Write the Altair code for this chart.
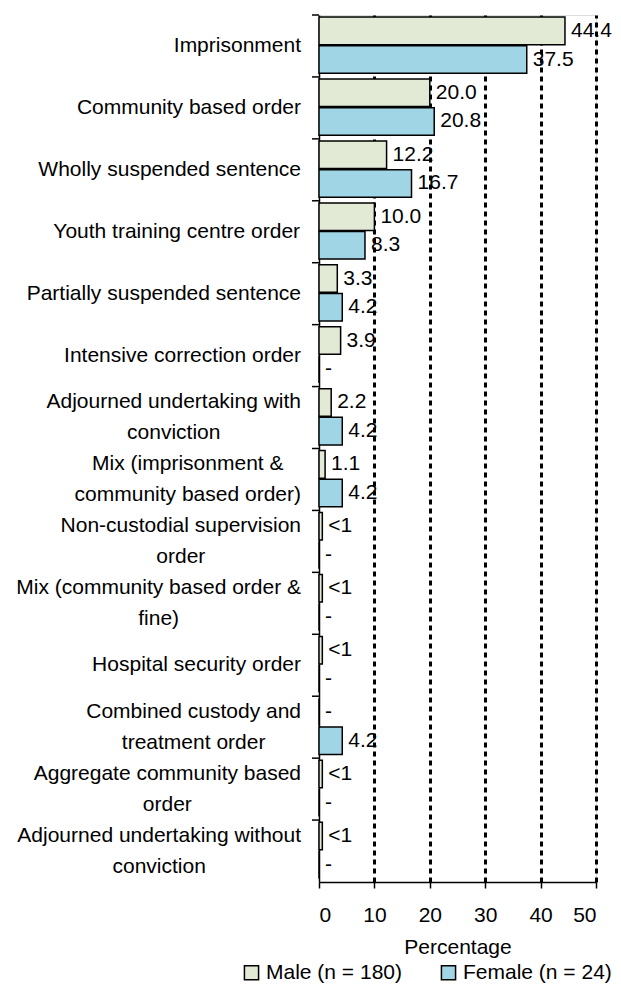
import altair as alt
import pandas as pd

# ---- data ----
categories = [
    ["Imprisonment"],
    ["Community based order"],
    ["Wholly suspended sentence"],
    ["Youth training centre order"],
    ["Partially suspended sentence"],
    ["Intensive correction order"],
    ["Adjourned undertaking with", "conviction"],
    ["Mix (imprisonment &", "community based order)"],
    ["Non-custodial supervision", "order"],
    ["Mix (community based order &", "fine)"],
    ["Hospital security order"],
    ["Combined custody and", "treatment order"],
    ["Aggregate community based", "order"],
    ["Adjourned undertaking without", "conviction"],
]
male_values = [44.4, 20.0, 12.2, 10.0, 3.3, 3.9, 2.2, 1.1, 0.6, 0.6, 0.6, 0.0, 0.6, 0.6]
male_labels = ["44.4", "20.0", "12.2", "10.0", "3.3", "3.9", "2.2", "1.1", "<1", "<1", "<1", "-", "<1", "<1"]
female_values = [37.5, 20.8, 16.7, 8.3, 4.2, 0.0, 4.2, 4.2, 0.0, 0.0, 0.0, 4.2, 0.0, 0.0]
female_labels = ["37.5", "20.8", "16.7", "8.3", "4.2", "-", "4.2", "4.2", "-", "-", "-", "4.2", "-", "-"]
series = ["Male (n = 180)", "Female (n = 24)"]
colors = ["#e2ead5", "#a0d5e5"]
x_ticks = [0, 10, 20, 30, 40, 50]

FONT = "Liberation Sans"
FS = 21

# Arial / Liberation Sans advance widths (1/1000 em), used to centre wrapped label lines
W = {" ": 278, "a": 556, "b": 556, "c": 500, "d": 556, "e": 556, "f": 278, "g": 556, "h": 556,
     "i": 222, "j": 222, "k": 500, "l": 222, "m": 833, "n": 556, "o": 556, "p": 556, "q": 556,
     "r": 333, "s": 500, "t": 278, "u": 556, "v": 500, "w": 722, "x": 500, "y": 500, "z": 500,
     "A": 667, "C": 722, "H": 722, "I": 278, "M": 833, "N": 722, "P": 667, "W": 944, "Y": 667,
     "(": 333, ")": 333, "&": 667, "-": 333}


def text_width(s):
    return sum(W.get(ch, 556) for ch in s)


cat_keys = ["\n".join(c) for c in categories]

rows = []
for i, key in enumerate(cat_keys):
    rows.append({"cat": key, "series": series[0], "value": male_values[i], "label": male_labels[i]})
    rows.append({"cat": key, "series": series[1], "value": female_values[i], "label": female_labels[i]})
df = pd.DataFrame(rows)

lab_df = pd.DataFrame({
    "cat": cat_keys,
    "w": [max(text_width(l) for l in c) for c in categories],
    "n": [len(c) for c in categories],
})

y_enc = alt.Y(
    "cat:N", sort=cat_keys, title=None,
    scale=alt.Scale(paddingInner=0, paddingOuter=0),
    axis=alt.Axis(labels=False, ticks=False, domain=True, domainColor="black",
                  domainWidth=1.5, grid=False),
)
yoff = alt.YOffset(
    "series:N", sort=series,
    scale=alt.Scale(paddingInner=0.04, paddingOuter=0.1, align=0.37),
)
x_enc = alt.X(
    "value:Q", title="Percentage",
    scale=alt.Scale(domain=[0, 50], nice=False),
    axis=alt.Axis(
        values=x_ticks, format="d",
        labelFont=FONT, labelFontSize=FS, labelColor="black", labelPadding=16,
        titleFont=FONT, titleFontSize=FS, titleFontWeight="normal", titleColor="black",
        titlePadding=11,
        tickColor="black", tickSize=6, tickWidth=1.5,
        domainColor="black", domainWidth=1.5,
        grid=True, gridColor="black", gridWidth=3, gridDash=[5, 4],
        gridOpacity={"condition": {"test": "datum.value === 0", "value": 0}, "value": 1},
    ),
)

bars = alt.Chart(df).mark_bar(stroke="black", strokeWidth=1.5).encode(
    y=y_enc,
    yOffset=yoff,
    x=x_enc,
    fill=alt.Fill(
        "series:N", sort=series, title=None,
        scale=alt.Scale(domain=series, range=colors),
        legend=alt.Legend(
            orient="none", direction="horizontal", legendX=-78, legendY=947,
            symbolType="square", symbolSize=200, symbolStrokeColor="black",
            symbolStrokeWidth=1.5, labelFont=FONT, labelFontSize=FS, labelColor="black",
            labelOffset=4, columnPadding=36,
        ),
    ),
)

values_text = alt.Chart(df).mark_text(
    align="left", baseline="middle", dx=6, font=FONT, fontSize=FS, color="black"
).encode(
    y=alt.Y("cat:N", sort=cat_keys),
    yOffset=alt.YOffset("series:N", sort=series),
    x=alt.X("value:Q"),
    text="label:N",
)


def cat_labels(nlines, dy):
    return alt.Chart(lab_df).transform_filter(
        f"datum.n == {nlines}"
    ).transform_calculate(
        lx=f"-18 - datum.w * {FS} / 2000"
    ).mark_text(
        align="center", baseline="middle", lineBreak="\n", lineHeight=31, dy=dy,
        font=FONT, fontSize=FS, color="black",
    ).encode(
        y=alt.Y("cat:N", sort=cat_keys),
        x=alt.X("lx:Q", scale=None),
        text="cat:N",
    )


labels1 = cat_labels(1, 0)
labels2 = cat_labels(2, -15.5)

yticks = alt.Chart(lab_df).mark_rule(color="black", strokeWidth=1.5).encode(
    y=alt.Y("cat:N", sort=cat_keys, bandPosition=0),
    x=alt.value(-7),
    x2=alt.value(0),
)

chart = alt.layer(bars, values_text, labels1, labels2, yticks).properties(
    width=277, height=867,
    padding={"left": 311, "top": 7, "right": 17, "bottom": 102},
    autosize=alt.AutoSizeParams(type="none"),
).configure_view(stroke=None).configure(background="white")

chart.save("out.html", embed_options={"renderer": "svg", "actions": False})
